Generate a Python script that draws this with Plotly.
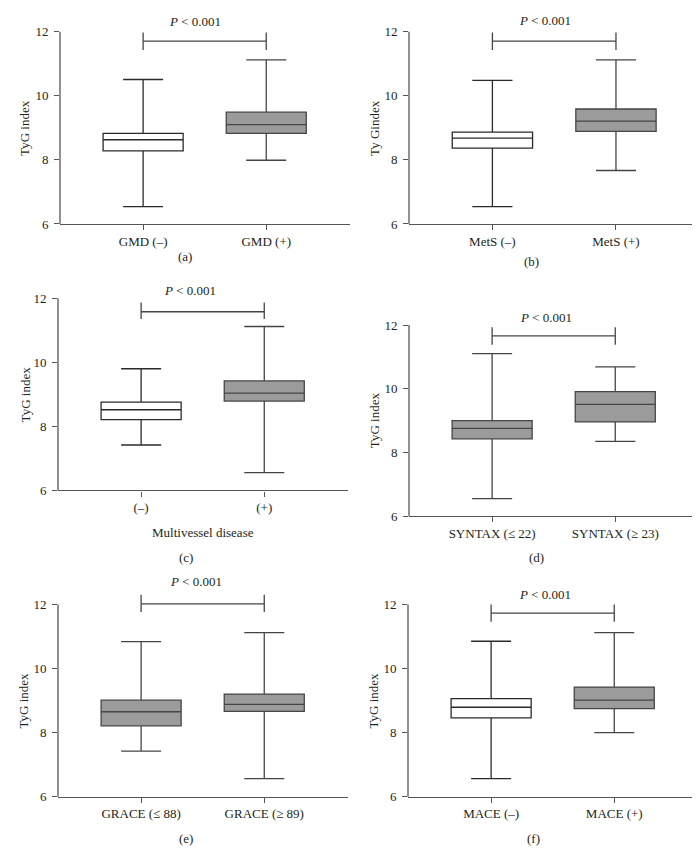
import plotly.graph_objects as go

# ---------------- data ----------------
panel_labels = ["(a)", "(b)", "(c)", "(d)", "(e)", "(f)"]
group_labels = [
    ["GMD (–)", "GMD (+)"],
    ["MetS (–)", "MetS (+)"],
    ["(–)", "(+)"],
    ["SYNTAX (≤ 22)", "SYNTAX (≥ 23)"],
    ["GRACE (≤ 88)", "GRACE (≥ 89)"],
    ["MACE (–)", "MACE (+)"],
]
y_titles = ["TyG index", "Ty Gindex", "TyG index", "TyG index", "TyG index", "TyG index"]
x_titles = ["", "", "Multivessel disease", "", "", ""]
p_text = "<i>P</i> &lt; 0.001"

lower_fence = [[6.54, 7.99], [6.54, 7.67], [7.42, 6.56], [6.55, 8.35], [7.42, 6.56], [6.56, 8.00]]
q1_vals     = [[8.28, 8.83], [8.37, 8.89], [8.21, 8.79], [8.43, 8.96], [8.21, 8.66], [8.46, 8.75]]
median_vals = [[8.63, 9.10], [8.68, 9.21], [8.52, 9.04], [8.76, 9.51], [8.65, 8.88], [8.79, 9.01]]
q3_vals     = [[8.83, 9.49], [8.87, 9.59], [8.76, 9.42], [9.00, 9.91], [9.01, 9.20], [9.06, 9.42]]
upper_fence = [[10.51, 11.12], [10.48, 11.12], [9.80, 11.12], [11.10, 10.69], [10.84, 11.12], [10.85, 11.12]]
box_shade = [["white", "gray"], ["white", "gray"], ["white", "gray"],
             ["gray", "gray"], ["gray", "gray"], ["white", "gray"]]

bracket_level = [11.71, 11.71, 11.58, 11.66, 12.02, 11.73]
bracket_low   = [11.43, 11.43, 11.35, 11.38, 11.76, 11.46]
bracket_high  = [11.98, 11.98, 11.87, 11.93, 12.30, 12.00]

y_ticks = [6, 8, 10, 12]

# ---------------- layout geometry (pixels in a 700x864 page) ----------------
W, H = 700, 864
# left, right, y(12), y(6)
frames = [
    (52, 342, 24, 218),
    (401, 692, 24, 218),
    (50, 340, 293, 487),
    (401, 691, 320, 513),
    (50, 340, 602, 796),
    (400, 690, 602, 796),
]
p_pos = [(187, 14), (537, 13), (182, 285), (538, 312), (188, 579), (537, 592)]
ytitle_pos = [(17, 121), (367, 121), (17, 390), (366, 416), (16, 699), (366, 699)]
plabel_pos = [(177, 251), (523, 256), (178, 555), (528, 555), (178, 838), (525, 838)]
xtitle_pos = [(197, 120), (0, 0), (195, 529), (0, 0), (0, 0), (0, 0)]

Y_MIN, Y_TOP, Y_MAX = 6, 12, 12.5
X_RANGE = [-0.675, 1.68]

FONT = "Liberation Serif"
TXT = "#231f20"
AXC = "#555555"
GRAY_FILL = "#9b9b9b"

fig = go.Figure()
layout = dict(
    width=W, height=H,
    margin=dict(l=0, r=0, t=0, b=0),
    paper_bgcolor="white", plot_bgcolor="white",
    showlegend=False, boxmode="overlay",
    font=dict(family=FONT, size=13, color=TXT),
)
shapes = []
annotations = []


def px_x(x):
    return x / W


def px_y(y):
    return 1 - y / H


for i in range(6):
    n = "" if i == 0 else str(i + 1)
    xa, ya = "x" + n, "y" + n
    left, right, y12, y6 = frames[i]
    top_px = y12 - (Y_MAX - Y_TOP) * (y6 - y12) / (Y_TOP - Y_MIN)
    layout["xaxis" + n] = dict(
        domain=[px_x(left), px_x(right)], range=X_RANGE, anchor=ya,
        tickvals=[0, 1], ticktext=group_labels[i],
        showline=True, linecolor=AXC, linewidth=1.3,
        ticks="outside", ticklen=5, tickcolor=AXC, tickwidth=1.3,
        showgrid=False, zeroline=False, fixedrange=True,
        tickfont=dict(family=FONT, size=13, color=TXT),
    )
    layout["yaxis" + n] = dict(
        domain=[px_y(y6), px_y(top_px)], range=[Y_MIN, Y_MAX], anchor=xa,
        tickvals=y_ticks, ticktext=[str(v) for v in y_ticks],
        showline=False, ticks="outside", ticklen=5, tickcolor=AXC, tickwidth=1.3,
        ticklabelstandoff=3,
        showgrid=False, zeroline=False, fixedrange=True,
        tickfont=dict(family=FONT, size=13, color=TXT),
    )
    # y-axis line from 6 to 12 only
    shapes.append(dict(type="line", xref=xa + " domain", yref=ya + " domain",
                       x0=0, x1=0, y0=0, y1=(Y_TOP - Y_MIN) / (Y_MAX - Y_MIN),
                       line=dict(color=AXC, width=1.3)))

    for g in range(2):
        gray = box_shade[i][g] == "gray"
        fig.add_trace(go.Box(
            x=[g], q1=[q1_vals[i][g]], median=[median_vals[i][g]], q3=[q3_vals[i][g]],
            lowerfence=[lower_fence[i][g]], upperfence=[upper_fence[i][g]],
            width=0.65, whiskerwidth=0.5, boxpoints=False,
            fillcolor=GRAY_FILL if gray else "white",
            line=dict(color="#454545" if gray else "#2b2b2b", width=1.3),
            xaxis=xa, yaxis=ya, hoverinfo="skip",
        ))

    # significance bracket
    bl = dict(color="#454545", width=1.3)
    shapes.append(dict(type="line", xref=xa, yref=ya, x0=0, x1=1,
                       y0=bracket_level[i], y1=bracket_level[i], line=bl))
    for xb in (0, 1):
        shapes.append(dict(type="line", xref=xa, yref=ya, x0=xb, x1=xb,
                           y0=bracket_low[i], y1=bracket_high[i], line=bl))

    # texts
    annotations.append(dict(text=p_text, xref="paper", yref="paper",
                            x=px_x(p_pos[i][0]), y=px_y(p_pos[i][1]),
                            xanchor="center", yanchor="middle", showarrow=False,
                            font=dict(family=FONT, size=13, color=TXT)))
    annotations.append(dict(text=y_titles[i], xref="paper", yref="paper",
                            x=px_x(ytitle_pos[i][0]), y=px_y(ytitle_pos[i][1]),
                            xanchor="center", yanchor="middle", textangle=-90,
                            showarrow=False, font=dict(family=FONT, size=13, color=TXT)))
    annotations.append(dict(text=panel_labels[i], xref="paper", yref="paper",
                            x=px_x(plabel_pos[i][0]), y=px_y(plabel_pos[i][1]),
                            xanchor="center", yanchor="middle", showarrow=False,
                            font=dict(family=FONT, size=13, color=TXT)))
    if x_titles[i]:
        annotations.append(dict(text=x_titles[i], xref="paper", yref="paper",
                                x=px_x(xtitle_pos[i][0]), y=px_y(xtitle_pos[i][1]),
                                xanchor="center", yanchor="middle", showarrow=False,
                                font=dict(family=FONT, size=13, color=TXT)))

layout["shapes"] = shapes
layout["annotations"] = annotations
fig.update_layout(**layout)
fig.write_html("out.html")
